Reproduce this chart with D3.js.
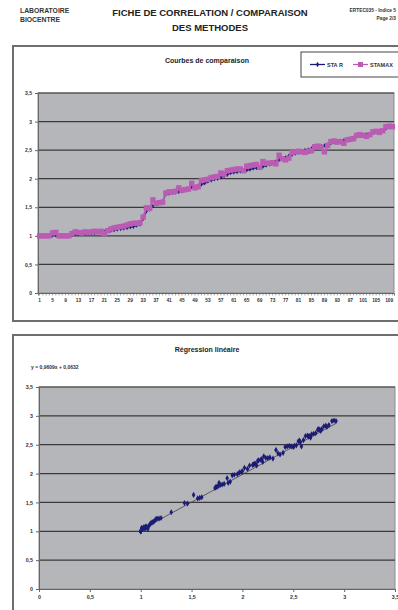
<!DOCTYPE html>
<html>
<head>
<meta charset="utf-8">
<script src="https://cdn.jsdelivr.net/npm/d3@7"></script>
<style>
  body { margin: 0; background: #fff; }
  svg { display: block; font-family: "Liberation Sans", Arial, sans-serif; }
</style>
</head>
<body>
<svg id="page" width="398" height="610"></svg>
<script>
const categories = d3.range(1, 111);

const staR = [
  1.00, 1.00, 1.00, 1.00, 1.01, 1.01, 1.00, 1.00, 1.00, 1.00,
  1.02, 1.03, 1.03, 1.04, 1.04, 1.05, 1.05, 1.05, 1.06, 1.06,
  1.07, 1.08, 1.09, 1.10, 1.11, 1.12, 1.13, 1.14, 1.15, 1.16,
  1.18, 1.20, 1.30, 1.43, 1.46, 1.52, 1.56, 1.58, 1.60, 1.73,
  1.74, 1.75, 1.76, 1.77, 1.78, 1.80, 1.82, 1.85, 1.86, 1.88,
  1.90, 1.92, 1.95, 1.97, 1.99, 2.00, 2.02, 2.05, 2.07, 2.10,
  2.11, 2.12, 2.13, 2.14, 2.15, 2.16, 2.18, 2.19, 2.20, 2.21,
  2.23, 2.25, 2.27, 2.30, 2.33, 2.35, 2.37, 2.40, 2.42, 2.44,
  2.46, 2.48, 2.50, 2.51, 2.53, 2.55, 2.56, 2.57, 2.58, 2.60,
  2.62, 2.64, 2.65, 2.66, 2.67, 2.68, 2.70, 2.72, 2.74, 2.75,
  2.76, 2.77, 2.78, 2.80, 2.82, 2.83, 2.85, 2.88, 2.90, 2.92
];

const stamax = [
  1.00, 1.00, 1.00, 1.00, 1.05, 1.06, 1.00, 1.00, 1.00, 1.00,
  1.04, 1.07, 1.06, 1.05, 1.07, 1.06, 1.07, 1.08, 1.07, 1.08,
  1.04, 1.09, 1.12, 1.14, 1.15, 1.16, 1.17, 1.19, 1.21, 1.22,
  1.22, 1.23, 1.33, 1.49, 1.48, 1.63, 1.57, 1.58, 1.59, 1.75,
  1.77, 1.77, 1.78, 1.84, 1.80, 1.81, 1.82, 1.92, 1.84, 1.86,
  1.97, 1.98, 1.99, 2.02, 2.03, 2.04, 2.10, 2.08, 2.14, 2.15,
  2.16, 2.17, 2.17, 2.14, 2.22, 2.23, 2.24, 2.25, 2.20, 2.30,
  2.27, 2.27, 2.28, 2.26, 2.41, 2.35, 2.33, 2.36, 2.46, 2.47,
  2.48, 2.47, 2.46, 2.48, 2.49, 2.56, 2.57, 2.55, 2.47, 2.58,
  2.65, 2.66, 2.64, 2.65, 2.62, 2.68, 2.69, 2.70, 2.76, 2.77,
  2.76, 2.74, 2.77, 2.82, 2.83, 2.81, 2.84, 2.91, 2.92, 2.91
];

const valueTicks = [0, 0.5, 1, 1.5, 2, 2.5, 3, 3.5];
const categoryLabels = categories.filter((d, i) => i % 4 === 0);
const seriesNames = ["STA R", "STAMAX"];
const slope = 0.9609;
const intercept = 0.0632;

const navy = "#1c1c78";
const pink = "#bb5cb4";
const plotBg = "#b5b6ba";
const gridCol = "#3a3a3a";
const fmt = d => String(d).replace(".", ",");

const svg = d3.select("#page");

// page header
svg.append("text").attr("x", 20).attr("y", 13).attr("font-size", 6.8).attr("font-weight", "bold").attr("fill", "#333").text("LABORATOIRE");
svg.append("text").attr("x", 20).attr("y", 22).attr("font-size", 6.8).attr("font-weight", "bold").attr("fill", "#333").text("BIOCENTRE");
svg.append("text").attr("x", 210).attr("y", 16).attr("text-anchor", "middle").attr("font-size", 9.5).attr("font-weight", "bold").attr("fill", "#222").text("FICHE DE CORRELATION / COMPARAISON");
svg.append("text").attr("x", 210).attr("y", 31).attr("text-anchor", "middle").attr("font-size", 9.5).attr("font-weight", "bold").attr("fill", "#222").text("DES METHODES");
svg.append("text").attr("x", 396).attr("y", 12).attr("text-anchor", "end").attr("font-size", 4.8).attr("font-weight", "bold").attr("fill", "#333").text("ERTEC035 - Indice 5");
svg.append("text").attr("x", 396).attr("y", 20).attr("text-anchor", "end").attr("font-size", 4.8).attr("font-weight", "bold").attr("fill", "#333").text("Page 2/3");

// ---------- chart 1 : comparison curves ----------
svg.append("rect").attr("x", 13).attr("y", 46).attr("width", 400).attr("height", 275)
  .attr("fill", "#fff").attr("stroke", "#6e6e6e").attr("stroke-width", 2);

svg.append("text").attr("x", 207).attr("y", 63).attr("text-anchor", "middle")
  .attr("font-size", 7).attr("font-weight", "bold").attr("fill", "#222").text("Courbes de comparaison");

const p1 = { left: 38, right: 394, top: 93, bottom: 293 };

const x1 = d3.scaleBand().domain(categories).range([p1.left, p1.right]);
const y1 = d3.scaleLinear().domain([0, 3.5]).range([p1.bottom, p1.top]);
const cx1 = d => x1(d) + x1.bandwidth() / 2;

svg.append("rect").attr("x", p1.left).attr("y", p1.top)
  .attr("width", p1.right - p1.left).attr("height", p1.bottom - p1.top)
  .attr("fill", plotBg).attr("stroke", "#8c8c8c").attr("stroke-width", 1);

svg.append("g").selectAll("line").data(valueTicks.slice(1)).enter().append("line")
  .attr("x1", p1.left).attr("x2", p1.right)
  .attr("y1", d => y1(d)).attr("y2", d => y1(d))
  .attr("stroke", gridCol).attr("stroke-width", 1.2);

const yAxis1 = svg.append("g").attr("transform", "translate(" + p1.left + ",0)")
  .call(d3.axisLeft(y1).tickValues(valueTicks).tickFormat(fmt).tickSize(3).tickPadding(3));
yAxis1.select(".domain").attr("stroke", "#666");
yAxis1.selectAll(".tick line").attr("stroke", "#666");
yAxis1.selectAll("text").attr("font-size", 5).attr("font-weight", "bold").attr("fill", "#333")
  .attr("font-family", "Liberation Sans, Arial, sans-serif");

const xAxis1 = svg.append("g").attr("transform", "translate(0," + p1.bottom + ")")
  .call(d3.axisBottom(x1).tickValues(categories).tickSize(2.5).tickPadding(3)
    .tickFormat(d => categoryLabels.includes(d) ? d : ""));
xAxis1.select(".domain").attr("stroke", "#666");
xAxis1.selectAll(".tick line").attr("stroke", "#666").attr("stroke-width", 0.6);
xAxis1.selectAll("text").attr("font-size", 4.8).attr("font-weight", "bold").attr("fill", "#333")
  .attr("font-family", "Liberation Sans, Arial, sans-serif");

const line1 = d3.line().x((d, i) => cx1(categories[i])).y(d => y1(d));

// STA R
svg.append("path").datum(staR).attr("d", line1)
  .attr("fill", "none").attr("stroke", navy).attr("stroke-width", 1.3);
svg.append("g").selectAll("path").data(staR).enter().append("path")
  .attr("d", d3.symbol(d3.symbolDiamond, 6))
  .attr("transform", (d, i) => "translate(" + cx1(categories[i]) + "," + y1(d) + ")")
  .attr("fill", navy);

// STAMAX
svg.append("path").datum(stamax).attr("d", line1)
  .attr("fill", "none").attr("stroke", pink).attr("stroke-width", 2);
svg.append("g").selectAll("rect").data(stamax).enter().append("rect")
  .attr("x", (d, i) => cx1(categories[i]) - 2.7).attr("y", d => y1(d) - 2.7)
  .attr("width", 5.4).attr("height", 5.4).attr("fill", pink);

// legend
const lg = svg.append("g");
lg.append("rect").attr("x", 301).attr("y", 52).attr("width", 110).attr("height", 25)
  .attr("fill", "#fff").attr("stroke", "#444").attr("stroke-width", 1);
const lgItems = [
  { name: seriesNames[0], x: 310, col: navy, mark: "diamond" },
  { name: seriesNames[1], x: 353, col: pink, mark: "square" }
];
lgItems.forEach(it => {
  lg.append("line").attr("x1", it.x).attr("x2", it.x + 15).attr("y1", 64.5).attr("y2", 64.5)
    .attr("stroke", it.col).attr("stroke-width", 1.3);
  if (it.mark === "diamond") {
    lg.append("path").attr("d", d3.symbol(d3.symbolDiamond, 8))
      .attr("transform", "translate(" + (it.x + 7.5) + ",64.5)").attr("fill", it.col);
  } else {
    lg.append("rect").attr("x", it.x + 5).attr("y", 62).attr("width", 5).attr("height", 5).attr("fill", it.col);
  }
  lg.append("text").attr("x", it.x + 17).attr("y", 66.5).attr("font-size", 5.5).attr("font-weight", "bold")
    .attr("fill", "#333").text(it.name);
});

// ---------- chart 2 : linear regression ----------
svg.append("rect").attr("x", 13).attr("y", 335).attr("width", 400).attr("height", 290)
  .attr("fill", "#fff").attr("stroke", "#6e6e6e").attr("stroke-width", 2);

svg.append("text").attr("x", 207).attr("y", 352).attr("text-anchor", "middle")
  .attr("font-size", 7).attr("font-weight", "bold").attr("fill", "#222").text("Régression linéaire");
svg.append("text").attr("x", 31).attr("y", 369)
  .attr("font-size", 5).attr("font-weight", "bold").attr("fill", "#333")
  .text("y = " + fmt(slope) + "x + " + fmt(intercept));

const p2 = { left: 39, right: 395, top: 387, bottom: 589 };
const x2 = d3.scaleLinear().domain([0, 3.5]).range([p2.left, p2.right]);
const y2 = d3.scaleLinear().domain([0, 3.5]).range([p2.bottom, p2.top]);

svg.append("rect").attr("x", p2.left).attr("y", p2.top)
  .attr("width", p2.right - p2.left).attr("height", p2.bottom - p2.top)
  .attr("fill", plotBg).attr("stroke", "#8c8c8c").attr("stroke-width", 1);

svg.append("g").selectAll("line").data(valueTicks.slice(1)).enter().append("line")
  .attr("x1", p2.left).attr("x2", p2.right)
  .attr("y1", d => y2(d)).attr("y2", d => y2(d))
  .attr("stroke", gridCol).attr("stroke-width", 1.2);

const yAxis2 = svg.append("g").attr("transform", "translate(" + p2.left + ",0)")
  .call(d3.axisLeft(y2).tickValues(valueTicks).tickFormat(fmt).tickSize(3).tickPadding(3));
const xAxis2 = svg.append("g").attr("transform", "translate(0," + p2.bottom + ")")
  .call(d3.axisBottom(x2).tickValues(valueTicks).tickFormat(fmt).tickSize(3).tickPadding(3));
[yAxis2, xAxis2].forEach(ax => {
  ax.select(".domain").attr("stroke", "#666");
  ax.selectAll(".tick line").attr("stroke", "#666");
  ax.selectAll("text").attr("font-size", 5.3).attr("font-weight", "bold").attr("fill", "#333")
    .attr("font-family", "Liberation Sans, Arial, sans-serif");
});

const xMin = d3.min(staR), xMax = d3.max(staR);
svg.append("line")
  .attr("x1", x2(xMin)).attr("y1", y2(slope * xMin + intercept))
  .attr("x2", x2(xMax)).attr("y2", y2(slope * xMax + intercept))
  .attr("stroke", "#444").attr("stroke-width", 0.8);

svg.append("g").selectAll("path").data(staR).enter().append("path")
  .attr("d", d3.symbol(d3.symbolDiamond, 11))
  .attr("transform", (d, i) => "translate(" + x2(d) + "," + y2(stamax[i]) + ")")
  .attr("fill", navy);
</script>
</body>
</html>
